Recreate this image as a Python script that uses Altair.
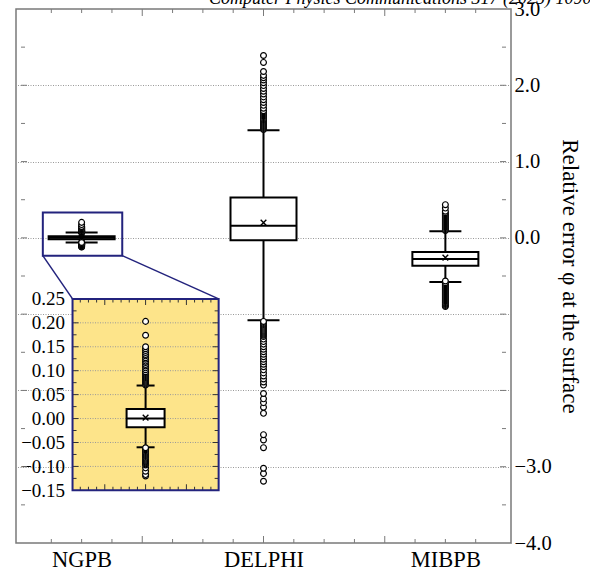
import altair as alt
import pandas as pd

# ---------------------------------------------------------------- data
methods = ["NGPB", "DELPHI", "MIBPB"]
positions = [1, 4, 7]

q1 = [-0.018, -0.03, -0.364]
q3 = [0.020, 0.53, -0.185]
median = [0.0, 0.16, -0.277]
mean = [0.002, 0.20, -0.26]
whisker_low = [-0.060, -1.081, -0.578]
whisker_high = [0.069, 1.409, 0.085]

# outliers, listed from lowest to highest (drawing order)
ngpb_outliers = [
    -0.120, -0.117, -0.110, -0.103, -0.097, -0.095, -0.093, -0.091, -0.089,
    -0.087, -0.085, -0.083, -0.081, -0.079, -0.077, -0.075, -0.073, -0.071,
    -0.069, -0.067, -0.065, -0.063, -0.061,
    0.070, 0.072, 0.074, 0.076, 0.078, 0.080, 0.082, 0.084, 0.086, 0.088,
    0.090, 0.092, 0.094, 0.096, 0.098, 0.102, 0.106, 0.110, 0.113, 0.117,
    0.120, 0.124, 0.127, 0.131, 0.134, 0.138, 0.142, 0.146, 0.150, 0.174,
    0.203,
]
delphi_outliers = [
    -3.19, -3.09, -3.02, -2.75, -2.65, -2.58, -2.30, -2.22, -2.16, -2.11,
    -2.04, -1.93, -1.89, -1.85, -1.81, -1.77, -1.73, -1.69, -1.657, -1.624,
    -1.591, -1.558, -1.525, -1.492, -1.459, -1.426, -1.393, -1.36, -1.327,
    -1.294, -1.277, -1.264, -1.251, -1.238, -1.225, -1.212, -1.199, -1.186,
    -1.173, -1.160, -1.147, -1.134, -1.121, -1.108, -1.095,
    1.420, 1.433, 1.446, 1.459, 1.472, 1.485, 1.498, 1.511, 1.524, 1.537,
    1.550, 1.563, 1.576, 1.589, 1.602, 1.615, 1.628, 1.641, 1.654, 1.667,
    1.700, 1.737, 1.774, 1.811, 1.848, 1.885, 1.922, 1.959, 1.996, 2.033,
    2.070, 2.100, 2.130, 2.180, 2.300, 2.390,
]
mibpb_outliers = [
    -0.900, -0.888, -0.875, -0.862, -0.849, -0.836, -0.823, -0.810, -0.797,
    -0.784, -0.771, -0.758, -0.745, -0.732, -0.719, -0.706, -0.693, -0.680,
    -0.667, -0.654, -0.641, -0.628, -0.615, -0.602, -0.589, -0.565,
    0.095, 0.108, 0.121, 0.134, 0.147, 0.160, 0.173, 0.186, 0.199, 0.212,
    0.225, 0.238, 0.251, 0.264, 0.277, 0.290, 0.303, 0.316, 0.330, 0.350,
    0.390, 0.435,
]

y_label_values = [3, 2, 1, 0, -1, -2, -3, -4]
y_hidden_labels = [-1, -2]
inset_label_values = [0.25, 0.20, 0.15, 0.10, 0.05, 0.0, -0.05, -0.10, -0.15]

y_title = "Relative error \u03c6 at the surface"
source_note = "Computer Physics Communications 317 (2025) 109084"

# ---------------------------------------------------------------- layout
X_DOMAIN = [0, 8]
Y_DOMAIN = [-4, 3]
ZOOM_X = [0.36, 1.67]          # magnified window, main units
ZOOM_Y = [-0.233, 0.334]
INSET_FRAME_X = [0.85, 3.26]   # where the magnified panel sits, main units
INSET_FRAME_Y = [-3.31, -0.80]
INSET_X = [-1.79, 1.79]        # magnified panel's own units
INSET_Y = [-0.15, 0.25]
PLOT_W, PLOT_H = 495, 534

NAVY = "#23237d"
YELLOW = "#fde48a"
FRAME = "#7a7a7a"
GRID = "#999999"
SERIF = "Liberation Serif"


def stretch(inner, frame, outer):
    """Domain for the inset scale so that `inner` lands on `frame`."""
    k = (inner[1] - inner[0]) / (frame[1] - frame[0])
    return [inner[0] + (outer[0] - frame[0]) * k,
            inner[0] + (outer[1] - frame[0]) * k]


xs_main = alt.Scale(domain=X_DOMAIN, nice=False, zero=False)
ys_main = alt.Scale(domain=Y_DOMAIN, nice=False, zero=False)
xs_inset = alt.Scale(domain=stretch(INSET_X, INSET_FRAME_X, X_DOMAIN), nice=False, zero=False)
ys_inset = alt.Scale(domain=stretch(INSET_Y, INSET_FRAME_Y, Y_DOMAIN), nice=False, zero=False)

label_expr_x = " : ".join(
    f"datum.value == {p} ? '{m}'" for p, m in zip(positions, methods)) + " : ''"
hidden = " || ".join(f"datum.value == {v}" for v in y_hidden_labels)
label_expr_y = f"{hidden} ? '' : format(datum.value, '.1f')"

ax_x = alt.Axis(orient="bottom", values=positions, labelExpr=label_expr_x,
                ticks=False, tickSize=0, domain=False, grid=False, title=None,
                labelFont=SERIF, labelFontSize=22.5, labelColor="black",
                labelPadding=5)
ax_y = alt.Axis(orient="right", values=y_label_values, labelExpr=label_expr_y,
                ticks=False, tickSize=0, domain=False, grid=True,
                gridColor=GRID, gridDash=[1, 1.5], gridWidth=1,
                labelFont=SERIF, labelFontSize=20.5, labelColor="black",
                labelPadding=3, title=y_title, titleFont=SERIF,
                titleFontSize=23, titleFontWeight="normal",
                titleColor="black", titleAngle=90, titlePadding=6)
ax_y_inset = alt.Axis(orient="left",
                      offset=-(INSET_FRAME_X[0] - X_DOMAIN[0]) * PLOT_W / (X_DOMAIN[1] - X_DOMAIN[0]),
                      values=inset_label_values, format=".2f", ticks=False,
                      tickSize=0, domain=False, grid=False, title=None,
                      labelFont=SERIF, labelFontSize=19, labelColor="black",
                      labelPadding=4)


def mx(field):
    return alt.X(field, type="quantitative", scale=xs_main, axis=ax_x)


def my(field):
    return alt.Y(field, type="quantitative", scale=ys_main, axis=ax_y)


def ix(field):
    return alt.X(field, type="quantitative", scale=xs_inset, axis=None)


def iy(field):
    return alt.Y(field, type="quantitative", scale=ys_inset, axis=ax_y_inset)


# ---------------------------------------------------------------- tables
stats = pd.DataFrame({
    "method": methods, "pos": positions, "q1": q1, "q3": q3,
    "median": median, "mean": mean, "lo": whisker_low, "hi": whisker_high,
})
outliers = pd.DataFrame(
    [{"method": m, "pos": p, "value": v}
     for m, p, vals in zip(methods, positions,
                           [ngpb_outliers, delphi_outliers, mibpb_outliers])
     for v in vals])
caps = pd.DataFrame(
    [{"pos": p, "value": v} for p, lo, hi in zip(positions, whisker_low, whisker_high)
     for v in (lo, hi)])

ngpb = stats[stats["method"] == "NGPB"].assign(pos=0.0)
ngpb_caps = pd.DataFrame({"pos": [0.0, 0.0], "value": [whisker_low[0], whisker_high[0]]})
ngpb_out = pd.DataFrame({"pos": 0.0, "value": ngpb_outliers})

zoom_box = pd.DataFrame({"x0": [ZOOM_X[0]], "x1": [ZOOM_X[1]],
                         "y0": [ZOOM_Y[0]], "y1": [ZOOM_Y[1]]})
connectors = pd.DataFrame({
    "x0": [ZOOM_X[0], ZOOM_X[1]], "y0": [ZOOM_Y[0], ZOOM_Y[0]],
    "x1": [INSET_FRAME_X[0], INSET_FRAME_X[1]],
    "y1": [INSET_FRAME_Y[1], INSET_FRAME_Y[1]],
})
inset_box = pd.DataFrame({"x0": [INSET_X[0]], "x1": [INSET_X[1]],
                          "y0": [INSET_Y[0]], "y1": [INSET_Y[1]]})

CROSS = "M-1,-1L1,1M-1,1L1,-1"


def box_layers(data, cap_data, out_data, X, Y, box_w, cap_w):
    base = alt.Chart(data)
    whisk = base.mark_rule(color="black", strokeWidth=2).encode(
        x=X("pos"), y=Y("lo"), y2="hi")
    box = base.mark_bar(size=box_w, fill="white", stroke="black",
                        strokeWidth=2).encode(x=X("pos"), y=Y("q1"), y2="q3")
    med = base.mark_tick(orient="horizontal", size=box_w, thickness=2,
                         color="black", opacity=1).encode(x=X("pos"), y=Y("median"))
    cap = alt.Chart(cap_data).mark_tick(orient="horizontal", size=cap_w,
                                        thickness=2, color="black",
                                        opacity=1).encode(x=X("pos"), y=Y("value"))
    avg = base.mark_point(shape=CROSS, size=32, filled=False, color="black",
                          strokeWidth=1.4, opacity=1).encode(x=X("pos"), y=Y("mean"))
    out = alt.Chart(out_data).mark_point(shape="circle", size=34, filled=True,
                                         fill="white", stroke="black",
                                         strokeWidth=1.2, opacity=1).encode(
        x=X("pos"), y=Y("value"))
    return [whisk, box, med, cap, avg, out]


def edge_ticks(values, edge, axis_dir, side, length, X, Y, color):
    """Inward tick marks along one edge of a frame."""
    df = pd.DataFrame({"e": edge, "v": values})
    if axis_dir == "y":
        return alt.Chart(df).mark_tick(
            orient="horizontal", size=length, thickness=1, color=color,
            opacity=1, xOffset=side * length / 2).encode(x=X("e"), y=Y("v"))
    return alt.Chart(df).mark_tick(
        orient="vertical", size=length, thickness=1, color=color,
        opacity=1, yOffset=side * length / 2).encode(x=X("v"), y=Y("e"))


# main frame ticks
y_major = [v for v in range(-3, 3)]
y_minor = [v + 0.5 for v in range(-4, 3)]
x_major = [2, 4, 6]
x_minor = [i * 0.5 for i in range(1, 16) if (i * 0.5) not in x_major]

main_ticks = [
    edge_ticks(y_major, X_DOMAIN[0], "y", 1, 6, mx, my, FRAME),
    edge_ticks(y_minor, X_DOMAIN[0], "y", 1, 4, mx, my, FRAME),
    edge_ticks(y_major, X_DOMAIN[1], "y", -1, 6, mx, my, FRAME),
    edge_ticks(y_minor, X_DOMAIN[1], "y", -1, 4, mx, my, FRAME),
    edge_ticks(x_major, Y_DOMAIN[0], "x", -1, 7, mx, my, FRAME),
    edge_ticks(x_minor, Y_DOMAIN[0], "x", -1, 4, mx, my, FRAME),
    edge_ticks(x_major, Y_DOMAIN[1], "x", 1, 7, mx, my, FRAME),
    edge_ticks(x_minor, Y_DOMAIN[1], "x", 1, 4, mx, my, FRAME),
]

zoom_rect = alt.Chart(zoom_box).mark_rect(
    fillOpacity=0, stroke=NAVY, strokeWidth=2).encode(
    x=mx("x0"), x2="x1", y=my("y0"), y2="y1")
zoom_lines = alt.Chart(connectors).mark_rule(
    color=NAVY, strokeWidth=1.5).encode(x=mx("x0"), x2="x1", y=my("y0"), y2="y1")

# journal reference running along the top edge (partly outside the page)
note = alt.Chart(pd.DataFrame({"t": [source_note]})).mark_text(
    align="left", baseline="alphabetic", font=SERIF, fontSize=18,
    fontStyle="italic", color="black").encode(
    x=alt.value(193), y=alt.value(-5), text="t:N")

main = alt.layer(
    zoom_rect, zoom_lines,
    *box_layers(stats, caps, outliers, mx, my, 66, 32),
    *main_ticks,
    note,
)

# magnified NGPB panel
iy_major = [round(-0.10 + 0.05 * i, 3) for i in range(7)]
iy_minor = [round(-0.125 + 0.05 * i, 3) for i in range(8)]
ix_major = [-1, 0, 1]
ix_minor = [round(-1.6 + 0.2 * i, 2) for i in range(17)
            if round(-1.6 + 0.2 * i, 2) not in (-1.0, 0.0, 1.0)]

inset_bg = alt.Chart(inset_box).mark_rect(fill=YELLOW).encode(
    x=ix("x0"), x2="x1", y=iy("y0"), y2="y1")
inset_grid = alt.Chart(pd.DataFrame({"v": iy_major})).mark_rule(
    color=GRID, strokeDash=[1, 1.5], strokeWidth=1).encode(
    x=alt.XDatum(INSET_X[0], type="quantitative", scale=xs_inset, axis=None),
    x2=alt.X2Datum(INSET_X[1]), y=iy("v"))
inset_ticks = [
    edge_ticks(iy_major, INSET_X[0], "y", 1, 6, ix, iy, "#333"),
    edge_ticks(iy_minor, INSET_X[0], "y", 1, 4, ix, iy, "#333"),
    edge_ticks(iy_major, INSET_X[1], "y", -1, 6, ix, iy, "#333"),
    edge_ticks(iy_minor, INSET_X[1], "y", -1, 4, ix, iy, "#333"),
    edge_ticks(ix_major, INSET_Y[0], "x", -1, 6, ix, iy, "#333"),
    edge_ticks(ix_minor, INSET_Y[0], "x", -1, 3.5, ix, iy, "#333"),
    edge_ticks(ix_major, INSET_Y[1], "x", 1, 6, ix, iy, "#333"),
    edge_ticks(ix_minor, INSET_Y[1], "x", 1, 3.5, ix, iy, "#333"),
]
inset_outline = alt.Chart(inset_box).mark_rect(
    fillOpacity=0, stroke=NAVY, strokeWidth=2).encode(
    x=ix("x0"), x2="x1", y=iy("y0"), y2="y1")

inset = alt.layer(
    inset_bg, inset_grid, *inset_ticks,
    *box_layers(ngpb, ngpb_caps, ngpb_out, ix, iy, 38, 18),
    inset_outline,
)

chart = (
    alt.layer(main, inset)
    .resolve_scale(x="independent", y="independent")
    .properties(
        width=PLOT_W, height=PLOT_H,
        padding={"left": 16, "top": 9, "right": 79, "bottom": 32},
        autosize=alt.AutoSizeParams(type="none"),
    )
    .configure_view(stroke=FRAME, strokeWidth=1.5)
)

chart.save("out.html", embed_options={"renderer": "svg", "actions": False})
